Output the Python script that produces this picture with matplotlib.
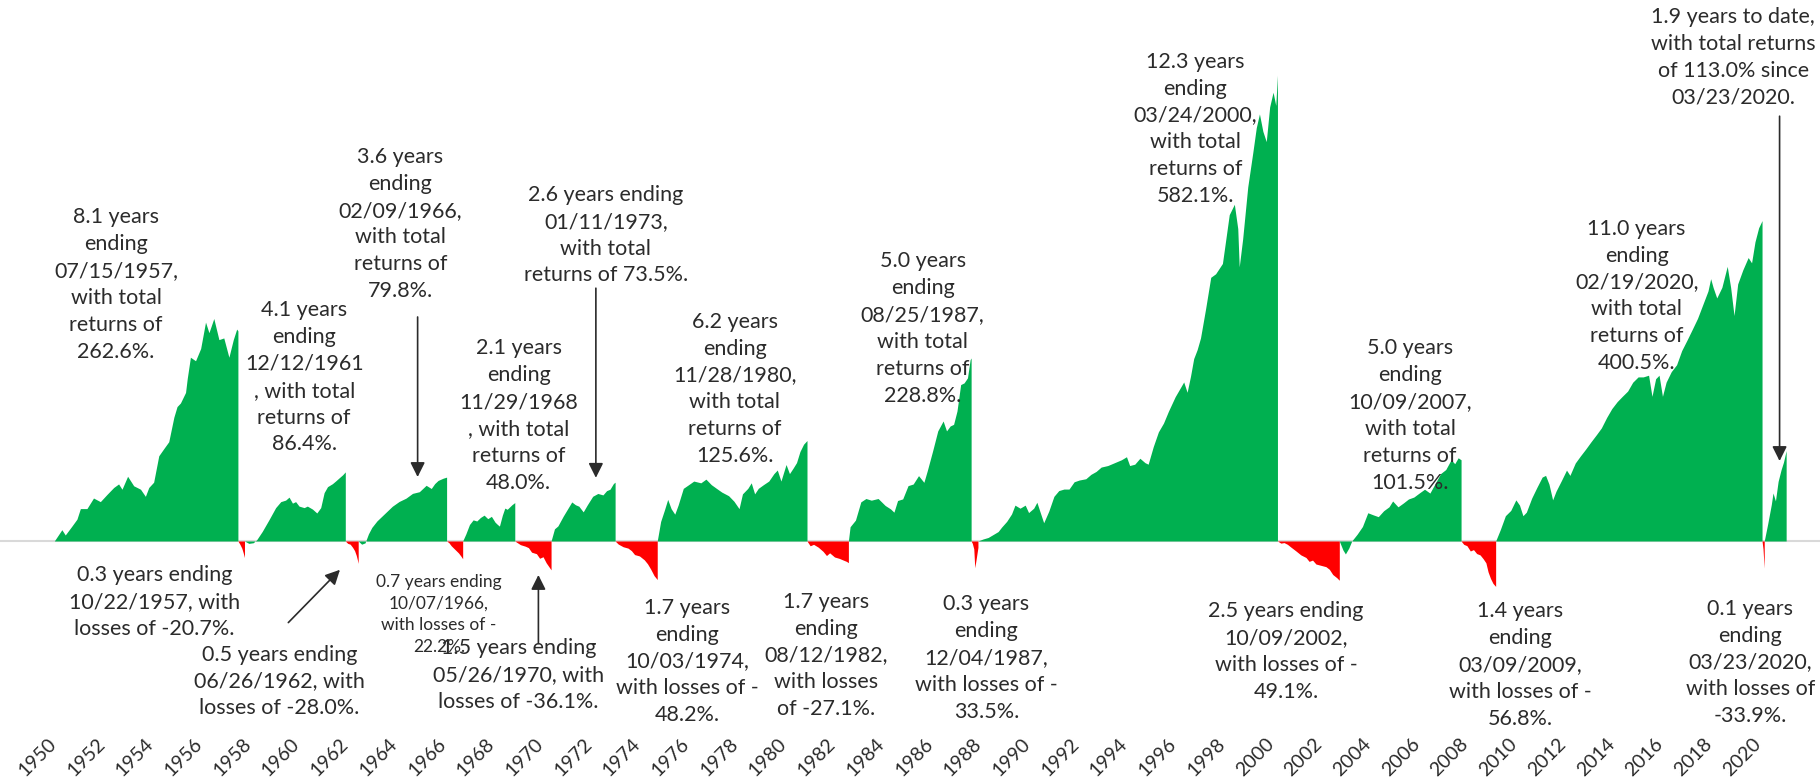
import matplotlib
matplotlib.use("Agg")
import matplotlib.pyplot as plt
from matplotlib.transforms import ScaledTranslation

plt.rcParams["font.family"] = ["Lato", "DejaVu Sans"]

GREEN = "#00B050"
RED = "#FF0000"
INK = "#2b2b2b"

# cumulative return (%) of each bull / bear phase, restarting at zero
bull_1957_t = [1950.0, 1950.31, 1950.45, 1950.72, 1950.93, 1951.07, 1951.34, 1951.61, 1951.89, 1952.16,
               1952.44, 1952.64, 1952.78, 1953.01, 1953.26, 1953.54, 1953.74, 1953.88, 1954.08, 1954.29,
               1954.49, 1954.70, 1954.91, 1955.04, 1955.18, 1955.39, 1955.46, 1955.59, 1955.80, 1956.01,
               1956.21, 1956.35, 1956.55, 1956.76, 1956.96, 1957.17, 1957.35, 1957.49, 1957.54]
bull_1957_v = [0, 14.1, 7.5, 18.5, 27.3, 40.5, 40.5, 53.7, 49.2, 58.1,
               66.9, 71.3, 64.7, 80.9, 69.0, 64.7, 55.8, 66.9, 73.5, 106.5,
               115.2, 124.1, 154.8, 168.0, 172.5, 185.7, 203.3, 229.7, 225.3, 240.6,
               273.6, 260.4, 278.1, 251.7, 253.8, 229.7, 251.7, 264.9, 262.6]

bear_1957_t = [1957.54, 1957.62, 1957.70, 1957.76, 1957.81]
bear_1957_v = [0, -4.0, -9.0, -15.0, -20.7]

bull_1961_t = [1957.81, 1957.99, 1958.17, 1958.31, 1958.54, 1958.82, 1959.09, 1959.30, 1959.50, 1959.64,
               1959.78, 1959.91, 1960.05, 1960.26, 1960.39, 1960.60, 1960.78, 1960.94, 1961.08, 1961.22,
               1961.42, 1961.56, 1961.70, 1961.84, 1961.95]
bull_1961_v = [0, -3.0, -2.2, 1.5, 12.0, 26.8, 41.7, 49.2, 51.1, 54.8,
               47.3, 49.2, 43.6, 41.7, 43.6, 39.9, 35.0, 41.7, 60.4, 67.9,
               71.6, 75.2, 79.0, 82.7, 86.4]

bear_1962_t = [1961.95, 1962.05, 1962.15, 1962.25, 1962.33, 1962.40, 1962.45, 1962.48]
bear_1962_v = [0, -3.0, -4.0, -8.0, -12.0, -18.0, -24.0, -28.0]

bull_1966_t = [1962.48, 1962.62, 1962.76, 1962.90, 1963.04, 1963.25, 1963.46, 1963.67, 1963.88, 1964.16,
               1964.44, 1964.71, 1964.99, 1965.27, 1965.48, 1965.62, 1965.76, 1965.97, 1966.11]
bull_1966_v = [0, -4.0, -2.4, 8.9, 17.0, 25.1, 31.2, 37.3, 43.4, 49.4,
               53.5, 59.5, 61.6, 69.6, 65.6, 71.7, 75.7, 78.5, 79.8]

bear_1966_t = [1966.11, 1966.20, 1966.30, 1966.40, 1966.50, 1966.60, 1966.70, 1966.77]
bear_1966_v = [0, -2.0, -6.0, -9.0, -12.0, -15.0, -19.0, -22.2]

bull_1968_t = [1966.77, 1966.90, 1967.05, 1967.20, 1967.35, 1967.50, 1967.65, 1967.80, 1967.95, 1968.10,
               1968.20, 1968.28, 1968.40, 1968.50, 1968.60, 1968.70, 1968.80, 1968.91]
bull_1968_v = [0, 8.8, 20.6, 26.4, 25.0, 29.4, 32.3, 27.9, 30.8, 23.5,
               20.6, 18.6, 32.3, 41.1, 39.6, 42.6, 45.5, 48.0]

bear_1970_t = [1968.91, 1969.14, 1969.34, 1969.47, 1969.60, 1969.80, 1969.93, 1970.07, 1970.20, 1970.33, 1970.40]
bear_1970_v = [0, -4.6, -6.5, -8.3, -14.0, -15.9, -21.6, -19.7, -27.3, -33.0, -36.1]

bull_1973_t = [1970.40, 1970.54, 1970.68, 1970.90, 1971.11, 1971.25, 1971.40, 1971.54, 1971.72, 1971.89,
               1972.11, 1972.32, 1972.53, 1972.68, 1972.82, 1972.96, 1973.03]
bull_1973_v = [0, 15.2, 18.8, 31.1, 41.7, 48.8, 45.3, 43.5, 36.4, 45.3,
               55.9, 59.4, 57.6, 62.9, 64.7, 71.8, 73.5]

bear_1974_t = [1973.03, 1973.16, 1973.36, 1973.56, 1973.70, 1973.83, 1974.03, 1974.23, 1974.36, 1974.49,
               1974.63, 1974.76]
bear_1974_v = [0, -3.9, -7.2, -8.9, -12.1, -17.0, -18.7, -23.6, -28.5, -35.1, -43.3, -48.2]

bull_1980_t = [1974.76, 1974.90, 1975.05, 1975.19, 1975.33, 1975.48, 1975.62, 1975.83, 1976.05, 1976.26,
               1976.55, 1976.76, 1976.98, 1977.19, 1977.41, 1977.69, 1977.91, 1978.12, 1978.26, 1978.48,
               1978.62, 1978.76, 1978.91, 1979.12, 1979.34, 1979.55, 1979.69, 1979.84, 1980.05, 1980.19,
               1980.34, 1980.48, 1980.62, 1980.77, 1980.91]
bull_1980_v = [0, 24.4, 38.2, 52.0, 40.4, 33.5, 45.1, 65.8, 70.4, 74.9,
               72.7, 77.3, 70.4, 65.8, 61.1, 56.6, 49.7, 40.4, 58.9, 65.8,
               72.7, 58.9, 65.8, 70.4, 74.9, 84.2, 88.7, 74.9, 95.6, 84.2,
               91.1, 98.0, 111.8, 121.0, 125.6]

bear_1982_t = [1980.91, 1981.04, 1981.18, 1981.37, 1981.57, 1981.71, 1981.84, 1982.04, 1982.24, 1982.37,
               1982.53, 1982.61]
bear_1982_v = [0, -6.0, -4.2, -7.7, -13.0, -18.2, -14.8, -20.0, -21.8, -23.5, -25.5, -27.1]

bull_1987_t = [1982.61, 1982.68, 1982.90, 1983.12, 1983.33, 1983.55, 1983.83, 1984.12, 1984.34, 1984.48,
               1984.63, 1984.84, 1985.06, 1985.27, 1985.49, 1985.71, 1985.85, 1986.07, 1986.28, 1986.50,
               1986.64, 1986.79, 1986.93, 1987.07, 1987.22, 1987.36, 1987.50, 1987.61, 1987.65]
bull_1987_v = [0, 17.8, 26.1, 48.9, 53.1, 51.0, 53.1, 44.4, 40.1, 36.0,
               50.6, 52.6, 69.2, 71.2, 81.7, 73.3, 87.9, 112.7, 137.6, 150.0,
               137.6, 143.8, 145.8, 162.5, 195.5, 197.6, 203.9, 226.6, 228.8]

bear_1987_t = [1987.65, 1987.70, 1987.76, 1987.80, 1987.86, 1987.93]
bear_1987_v = [0, -3.0, -10.0, -33.5, -22.0, -8.0]

bull_2000_t = [1987.93, 1988.14, 1988.35, 1988.55, 1988.76, 1988.90, 1989.11, 1989.31, 1989.45, 1989.66,
               1989.87, 1990.01, 1990.22, 1990.35, 1990.49, 1990.63, 1990.84, 1991.05, 1991.25, 1991.46,
               1991.67, 1991.88, 1992.09, 1992.36, 1992.57, 1992.78, 1992.99, 1993.26, 1993.54, 1993.82,
               1994.03, 1994.16, 1994.37, 1994.58, 1994.79, 1994.92, 1995.13, 1995.34, 1995.55, 1995.75,
               1996.03, 1996.24, 1996.38, 1996.52, 1996.66, 1996.79, 1996.93, 1997.07, 1997.28, 1997.49,
               1997.69, 1997.97, 1998.11, 1998.25, 1998.46, 1998.60, 1998.66, 1998.80, 1999.01, 1999.22,
               1999.36, 1999.49, 1999.63, 1999.77, 1999.91, 2000.05, 2000.16, 2000.23]
bull_2000_v = [0, 2.5, 4.4, 8.0, 11.8, 17.3, 24.5, 33.8, 44.8, 41.0,
               44.8, 35.5, 41.0, 48.4, 35.5, 22.8, 37.4, 55.8, 63.0, 64.9,
               64.9, 74.0, 76.2, 77.8, 83.3, 86.9, 92.4, 94.3, 97.9, 101.5,
               105.3, 94.3, 96.0, 103.4, 97.9, 96.0, 118.0, 136.4, 147.4, 162.0,
               180.4, 191.4, 198.8, 185.9, 206.0, 228.0, 239.0, 253.8, 290.4, 329.6,
               334.0, 346.9, 377.3, 407.9, 420.9, 390.5, 342.7, 377.3, 442.6, 486.1,
               516.6, 533.9, 512.2, 499.2, 542.6, 561.0, 544.5, 582.1]

bear_2002_t = [2000.23, 2000.37, 2000.50, 2000.64, 2000.78, 2000.99, 2001.19, 2001.40, 2001.53, 2001.67,
               2001.81, 2002.01, 2002.22, 2002.36, 2002.50, 2002.67, 2002.77]
bear_2002_v = [0, -2.7, -2.0, -4.2, -7.6, -12.5, -17.4, -20.6, -25.5, -23.9,
               -28.8, -30.4, -32.1, -35.4, -41.9, -46.0, -49.1]

bull_2007_t = [2002.77, 2002.92, 2003.02, 2003.16, 2003.28, 2003.50, 2003.72, 2003.94, 2004.15, 2004.37,
               2004.59, 2004.81, 2004.96, 2005.18, 2005.40, 2005.61, 2005.83, 2006.05, 2006.27, 2006.49,
               2006.71, 2006.93, 2007.14, 2007.36, 2007.51, 2007.65, 2007.77]
bull_2007_v = [0, -11.3, -16.2, -8.8, 0.0, 8.4, 18.1, 35.3, 32.8, 30.4,
               37.8, 42.7, 50.0, 42.7, 47.5, 52.5, 54.9, 59.9, 64.7, 59.9,
               72.1, 84.3, 89.3, 101.5, 96.6, 104.0, 101.5]

bear_2009_t = [2007.77, 2007.88, 2008.01, 2008.15, 2008.28, 2008.41, 2008.55, 2008.68, 2008.79, 2008.88,
               2008.98, 2009.08, 2009.19]
bear_2009_v = [0, -4.2, -5.9, -12.5, -10.8, -15.7, -17.4, -22.3, -27.3, -38.7, -46.9, -53.0, -56.8]

bull_2020_t = [2009.19, 2009.38, 2009.59, 2009.81, 2010.02, 2010.17, 2010.31, 2010.45, 2010.67, 2010.88,
               2011.10, 2011.24, 2011.38, 2011.53, 2011.67, 2011.89, 2012.10, 2012.24, 2012.46, 2012.67,
               2012.89, 2013.10, 2013.32, 2013.53, 2013.75, 2013.96, 2014.18, 2014.39, 2014.61, 2014.82,
               2015.04, 2015.25, 2015.47, 2015.61, 2015.76, 2015.90, 2016.04, 2016.19, 2016.40, 2016.62,
               2016.83, 2017.05, 2017.26, 2017.48, 2017.69, 2017.91, 2018.02, 2018.12, 2018.27, 2018.48,
               2018.70, 2018.84, 2018.98, 2019.13, 2019.34, 2019.56, 2019.70, 2019.84, 2019.99, 2020.13]
bull_2020_v = [0, 14.1, 31.6, 38.2, 51.4, 44.8, 31.6, 36.0, 53.6, 66.8,
               79.9, 82.0, 71.1, 51.4, 62.3, 75.5, 88.6, 82.0, 97.5, 106.3,
               115.0, 123.8, 132.6, 141.3, 154.5, 165.5, 174.2, 180.8, 187.4, 198.5,
               205.1, 205.1, 207.2, 180.8, 202.8, 207.2, 180.8, 198.5, 211.6, 220.3,
               238.0, 251.2, 264.3, 278.3, 295.0, 312.5, 327.9, 317.0, 303.8, 317.0,
               343.3, 317.0, 281.8, 321.3, 338.9, 354.3, 347.7, 374.0, 391.5, 400.5]

bear_2020_t = [2020.13, 2020.17, 2020.20, 2020.22]
bear_2020_v = [0, -10.0, -25.0, -33.9]

bull_2021_t = [2020.22, 2020.36, 2020.51, 2020.58, 2020.68, 2020.79, 2020.91, 2021.01, 2021.12]
bull_2021_v = [0, 21.1, 45.5, 60.0, 50.1, 74.5, 88.9, 98.5, 113.0]

bulls = [(bull_1957_t, bull_1957_v), (bull_1961_t, bull_1961_v), (bull_1966_t, bull_1966_v),
         (bull_1968_t, bull_1968_v), (bull_1973_t, bull_1973_v), (bull_1980_t, bull_1980_v),
         (bull_1987_t, bull_1987_v), (bull_2000_t, bull_2000_v), (bull_2007_t, bull_2007_v),
         (bull_2020_t, bull_2020_v), (bull_2021_t, bull_2021_v)]
bears = [(bear_1957_t, bear_1957_v), (bear_1962_t, bear_1962_v), (bear_1966_t, bear_1966_v),
         (bear_1970_t, bear_1970_v), (bear_1974_t, bear_1974_v), (bear_1982_t, bear_1982_v),
         (bear_1987_t, bear_1987_v), (bear_2002_t, bear_2002_v), (bear_2009_t, bear_2009_v),
         (bear_2020_t, bear_2020_v)]

bull_notes = [
    "8.1 years\nending\n07/15/1957,\nwith total\nreturns of\n262.6%.",
    "4.1 years\nending\n12/12/1961\n, with total\nreturns of\n86.4%.",
    "3.6 years\nending\n02/09/1966,\nwith total\nreturns of\n79.8%.",
    "2.1 years\nending\n11/29/1968\n, with total\nreturns of\n48.0%.",
    "2.6 years ending\n01/11/1973,\nwith total\nreturns of 73.5%.",
    "6.2 years\nending\n11/28/1980,\nwith total\nreturns of\n125.6%.",
    "5.0 years\nending\n08/25/1987,\nwith total\nreturns of\n228.8%.",
    "12.3 years\nending\n03/24/2000,\nwith total\nreturns of\n582.1%.",
    "5.0 years\nending\n10/09/2007,\nwith total\nreturns of\n101.5%.",
    "11.0 years\nending\n02/19/2020,\nwith total\nreturns of\n400.5%.",
    "1.9 years to date,\nwith total returns\nof 113.0% since\n03/23/2020.",
]
bear_notes = [
    "0.3 years ending\n10/22/1957, with\nlosses of -20.7%.",
    "0.5 years ending\n06/26/1962, with\nlosses of -28.0%.",
    "0.7 years ending\n10/07/1966,\nwith losses of -\n22.2%.",
    "1.5 years ending\n05/26/1970, with\nlosses of -36.1%.",
    "1.7 years\nending\n10/03/1974,\nwith losses of -\n48.2%.",
    "1.7 years\nending\n08/12/1982,\nwith losses\nof -27.1%.",
    "0.3 years\nending\n12/04/1987,\nwith losses of -\n33.5%.",
    "2.5 years ending\n10/09/2002,\nwith losses of -\n49.1%.",
    "1.4 years\nending\n03/09/2009,\nwith losses of -\n56.8%.",
    "0.1 years\nending\n03/23/2020,\nwith losses of\n-33.9%.",
]

# where each note is centred (year, %)
bull_note_xy = [(1952.54, 320.8), (1960.26, 204.7), (1964.21, 396.2), (1969.07, 156.8),
                (1972.65, 382.3), (1977.94, 190.2), (1985.66, 265.6), (1996.86, 515.2),
                (2005.68, 156.8), (2014.98, 306.3), (2018.94, 604.3)]
bear_note_xy = [(1954.11, -75.9), (1959.25, -175.5), (1965.80, -91.7), (1969.07, -167.3),
                (1975.98, -150.5), (1981.71, -143.2), (1988.28, -146.1), (2000.58, -138.5),
                (2010.21, -155.0), (2019.65, -151.9)]

# arrows: (tail year, tail %, head year, head %)
arrows = [(1959.61, -102.0, 1961.73, -36.0),
          (1964.92, 280.0, 1964.92, 80.0),
          (1969.88, -128.0, 1969.88, -42.5),
          (1972.24, 316.0, 1972.24, 79.0),
          (2020.85, 531.0, 2020.85, 100.0)]

fig = plt.figure(figsize=(18.2, 7.81), dpi=100)
ax = fig.add_axes([0, 0.0602, 1, 0.9398])
ax.set_xlim(1947.77, 2022.51)
ax.set_ylim(-241.25, 676.25)

ax.axhline(0, color="#d9d9d9", lw=1.5, zorder=0)
for t, v in bulls:
    ax.fill_between(t, v, 0, color=GREEN, lw=0, zorder=2)
for t, v in bears:
    ax.fill_between(t, v, 0, color=RED, lw=0, zorder=2)

for s, (x, y) in zip(bull_notes, bull_note_xy):
    ax.text(x, y, s, ha="center", va="center", fontsize=15.5, color=INK,
            linespacing=1.43, zorder=3)
for i, (s, (x, y)) in enumerate(zip(bear_notes, bear_note_xy)):
    size = 12.5 if i == 2 else 15.5
    ax.text(x, y, s, ha="center", va="center", fontsize=size, color=INK,
            linespacing=1.43, zorder=3)

for x0, y0, x1, y1 in arrows:
    ax.annotate("", xy=(x1, y1), xytext=(x0, y0),
                arrowprops=dict(arrowstyle="-|>", color=INK, lw=1.2, mutation_scale=22,
                                shrinkA=0, shrinkB=0), zorder=4)

ax.set_xticks(range(1950, 2021, 2))
ax.set_xticklabels([str(y) for y in range(1950, 2021, 2)], rotation=45, ha="right",
                   rotation_mode="anchor", fontsize=14, color=INK)
ax.tick_params(axis="x", length=0, pad=1)
shift = ScaledTranslation(-5 / 72, 0, fig.dpi_scale_trans)
for lab in ax.get_xticklabels():
    lab.set_transform(lab.get_transform() + shift)
ax.set_yticks([])
for sp in ax.spines.values():
    sp.set_visible(False)

fig.savefig("out.png", dpi=100)
